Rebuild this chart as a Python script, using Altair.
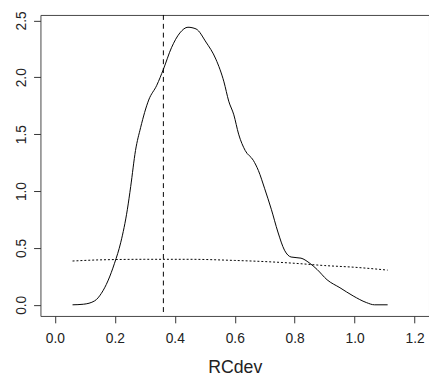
import altair as alt
import pandas as pd

# density curve (solid)
dens_x = [0.059, 0.095, 0.133, 0.155, 0.177, 0.199, 0.22, 0.242, 0.253, 0.269, 0.286, 0.313,
          0.340, 0.362, 0.389, 0.417, 0.444, 0.471, 0.504, 0.537, 0.564, 0.580, 0.597, 0.613,
          0.635, 0.662, 0.679, 0.700, 0.722, 0.744, 0.766, 0.788, 0.821, 0.848, 0.875, 0.908,
          0.951, 0.995, 1.039, 1.066, 1.110]
dens_y = [0.0, 0.005, 0.035, 0.10, 0.21, 0.365, 0.55, 0.84, 1.04, 1.356, 1.557, 1.80,
          1.93, 2.07, 2.26, 2.39, 2.44, 2.425, 2.31, 2.16, 1.96, 1.79, 1.67, 1.50,
          1.356, 1.27, 1.18, 1.02, 0.84, 0.64, 0.48, 0.42, 0.41, 0.37, 0.31, 0.22,
          0.15, 0.078, 0.02, 0.0, 0.0]

# dotted reference curve
dot_x = [0.059, 0.15, 0.30, 0.45, 0.60, 0.70, 0.80, 0.90, 1.00, 1.110]
dot_y = [0.385, 0.395, 0.400, 0.400, 0.390, 0.380, 0.365, 0.345, 0.330, 0.305]

# dashed vertical line
vline_x = [0.362]

x_ticks = [0.0, 0.2, 0.4, 0.6, 0.8, 1.0, 1.2]
y_ticks = [0.0, 0.5, 1.0, 1.5, 2.0, 2.5]

dens = pd.DataFrame({"x": dens_x, "y": dens_y})
dots = pd.DataFrame({"x": dot_x, "y": dot_y})
vl = pd.DataFrame({"x": vline_x})

xs = alt.Scale(domain=[-0.048, 1.248], nice=False, zero=False)
ys = alt.Scale(domain=[-0.098, 2.548], nice=False, zero=False)

xaxis = alt.Axis(values=x_ticks, format=".1f", grid=False, domain=False,
                 tickSize=7, tickColor="#333", labelColor="#222", labelFontSize=14,
                 labelFont="Liberation Sans", labelPadding=9, title="RCdev",
                 titleFont="Liberation Sans", titleFontSize=18, titleFontWeight="normal",
                 titleColor="#222", titlePadding=13)
yaxis = alt.Axis(values=y_ticks, format=".1f", grid=False, domain=False,
                 tickSize=7, tickColor="#333", labelColor="#222", labelFontSize=14,
                 labelFont="Liberation Sans", labelAngle=270, labelAlign="center",
                 labelBaseline="alphabetic", labelPadding=8, title=None)

line = alt.Chart(dens).mark_line(color="black", strokeWidth=1, interpolate="monotone").encode(
    x=alt.X("x:Q", scale=xs, axis=xaxis),
    y=alt.Y("y:Q", scale=ys, axis=yaxis),
)
dotted = alt.Chart(dots).mark_line(color="black", strokeWidth=1, strokeDash=[2, 2],
                                   interpolate="monotone").encode(
    x=alt.X("x:Q", scale=xs),
    y=alt.Y("y:Q", scale=ys),
)
rule = alt.Chart(vl).mark_rule(color="black", strokeWidth=1, strokeDash=[5, 4]).encode(
    x=alt.X("x:Q", scale=xs),
)

chart = alt.layer(line, dotted, rule).properties(
    width=395, height=306,
    autosize=alt.AutoSizeParams(type="none"),
    padding={"left": 33, "top": 4, "right": 0, "bottom": 60},
    background="white",
).configure_view(stroke="#444", strokeWidth=1)

chart.save("out.html", embed_options={"renderer": "svg", "actions": False})
